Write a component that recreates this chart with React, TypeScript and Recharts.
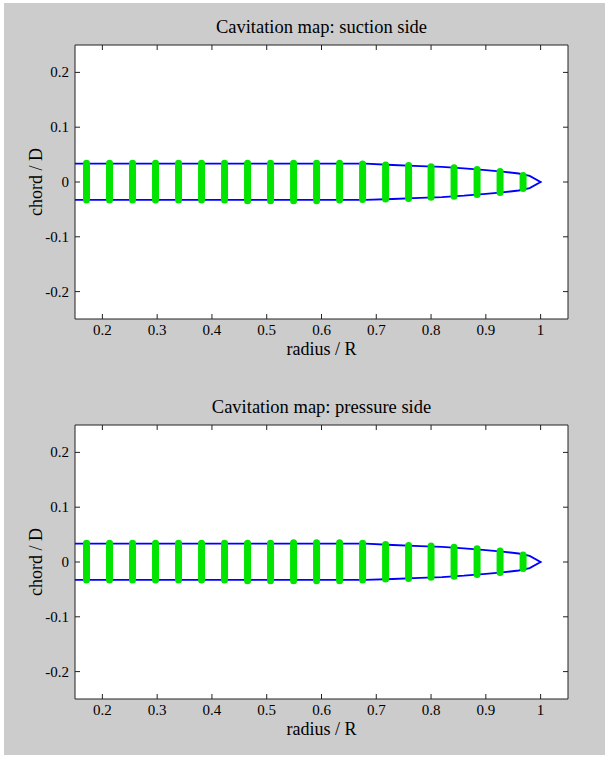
import { ComposedChart, Line, XAxis, YAxis } from "recharts";

// radii of the dot columns (r/R)
const COLUMN_R = [
  0.171, 0.213, 0.255, 0.297, 0.339, 0.381, 0.423, 0.465, 0.507, 0.549,
  0.591, 0.633, 0.675, 0.717, 0.759, 0.8, 0.842, 0.884, 0.926, 0.968,
];
// ends of each column (chord / D)
const SUCTION_TOP = [
  0.034, 0.034, 0.034, 0.034, 0.034, 0.034, 0.034, 0.034, 0.034, 0.034,
  0.034, 0.034, 0.033, 0.031, 0.03, 0.028, 0.026, 0.023, 0.019, 0.012,
];
const SUCTION_BOTTOM = [
  -0.033, -0.033, -0.033, -0.033, -0.033, -0.033, -0.033, -0.034, -0.034, -0.034,
  -0.034, -0.033, -0.032, -0.031, -0.03, -0.028, -0.026, -0.023, -0.019, -0.012,
];
const PRESSURE_TOP = [
  0.034, 0.034, 0.034, 0.034, 0.034, 0.034, 0.034, 0.034, 0.034, 0.035,
  0.035, 0.035, 0.034, 0.032, 0.03, 0.029, 0.027, 0.024, 0.02, 0.013,
];
const PRESSURE_BOTTOM = [
  -0.033, -0.033, -0.033, -0.033, -0.033, -0.033, -0.033, -0.034, -0.034, -0.034,
  -0.034, -0.034, -0.033, -0.031, -0.03, -0.028, -0.026, -0.023, -0.019, -0.012,
];

// blade outline
const OUTLINE_R = [0.15, 0.3, 0.45, 0.6, 0.68, 0.73, 0.78, 0.82, 0.86, 0.9, 0.93, 0.96, 0.98, 1.0];
const OUTLINE_UPPER = [0.0335, 0.0335, 0.0335, 0.0335, 0.0335, 0.031, 0.029, 0.0275, 0.025, 0.0215, 0.019, 0.0155, 0.011, 0];
const OUTLINE_LOWER = [-0.0325, -0.0325, -0.0325, -0.0325, -0.0325, -0.031, -0.029, -0.0275, -0.025, -0.0215, -0.019, -0.0155, -0.011, 0];

const X_TICKS = [0.2, 0.3, 0.4, 0.5, 0.6, 0.7, 0.8, 0.9, 1];
const Y_TICKS = [-0.2, -0.1, 0, 0.1, 0.2];

const FONT = "'Liberation Serif', 'DejaVu Serif', serif";
const GREEN = "#00e400";
const BLUE = "#0000ff";
const W = 605;
const H = 380;

const outline = [
  ...OUTLINE_R.map((r, i) => ({ x: r, y: OUTLINE_UPPER[i] })),
  ...OUTLINE_R.slice(0, -1)
    .map((r, i) => ({ x: r, y: OUTLINE_LOWER[i] }))
    .reverse(),
];

const fmt = (v: number) => String(v);

function BottomTick(props: any) {
  const { x, y, payload } = props;
  return (
    <g>
      <line x1={x} y1={y} x2={x} y2={y - 5} stroke="#222" />
      <text x={x} y={y + 16} textAnchor="middle" fontSize={15} fontFamily={FONT} fill="#000">
        {fmt(payload.value)}
      </text>
    </g>
  );
}

function TopTick(props: any) {
  const { x, y } = props;
  return <line x1={x} y1={y} x2={x} y2={y + 5} stroke="#222" />;
}

function LeftTick(props: any) {
  const { x, y, payload } = props;
  return (
    <g>
      <line x1={x} y1={y} x2={x + 5} y2={y} stroke="#222" />
      <text x={x - 6} y={y + 5} textAnchor="end" fontSize={15} fontFamily={FONT} fill="#000">
        {fmt(payload.value)}
      </text>
    </g>
  );
}

function RightTick(props: any) {
  const { x, y } = props;
  return <line x1={x} y1={y} x2={x - 5} y2={y} stroke="#222" />;
}

function CavPanel({
  title,
  top,
  tops,
  bottoms,
}: {
  title: string;
  top: number;
  tops: number[];
  bottoms: number[];
}) {
  const columns = COLUMN_R.map((r, i) => [
    { x: r, y: bottoms[i] },
    { x: r, y: tops[i] },
  ]);
  return (
    <div style={{ position: "absolute", left: 0, top, width: W, height: H }}>
      <div
        style={{
          position: "absolute",
          left: 75,
          width: 493,
          top: 16,
          textAlign: "center",
          fontFamily: FONT,
          fontSize: 18.5,
          lineHeight: "22px",
          color: "#000",
        }}
      >
        {title}
      </div>
      <div style={{ position: "absolute", left: 75, top: 45, width: 493, height: 274, background: "#fff" }} />
      <div style={{ position: "absolute", left: 0, top: 0 }}>
        <ComposedChart
          width={W}
          height={H}
          margin={{ top: 44, right: 36, bottom: 60, left: 74 }}
          style={{ overflow: "visible" }}
        >
          <XAxis
            xAxisId="b"
            dataKey="x"
            type="number"
            domain={[0.15, 1.05]}
            ticks={X_TICKS}
            interval={0}
            height={1}
            tickSize={0}
            tickMargin={0}
            tick={<BottomTick />}
            stroke="#222"
            allowDataOverflow
          />
          <XAxis
            xAxisId="t"
            orientation="top"
            dataKey="x"
            type="number"
            domain={[0.15, 1.05]}
            ticks={X_TICKS}
            interval={0}
            height={1}
            tickSize={0}
            tickMargin={0}
            tick={<TopTick />}
            stroke="#222"
            allowDataOverflow
          />
          <YAxis
            yAxisId="l"
            dataKey="y"
            type="number"
            domain={[-0.25, 0.25]}
            ticks={Y_TICKS}
            interval={0}
            width={1}
            tickSize={0}
            tickMargin={0}
            tick={<LeftTick />}
            stroke="#222"
            allowDataOverflow
          />
          <YAxis
            yAxisId="r"
            orientation="right"
            dataKey="y"
            type="number"
            domain={[-0.25, 0.25]}
            ticks={Y_TICKS}
            interval={0}
            width={1}
            tickSize={0}
            tickMargin={0}
            tick={<RightTick />}
            stroke="#222"
            allowDataOverflow
          />
          <Line
            xAxisId="b"
            yAxisId="l"
            data={outline}
            dataKey="y"
            stroke={BLUE}
            strokeWidth={1.8}
            dot={false}
            type="linear"
            isAnimationActive={false}
          />
          {columns.map((col, i) => (
            <Line
              key={i}
              xAxisId="b"
              yAxisId="l"
              data={col}
              dataKey="y"
              stroke={GREEN}
              strokeWidth={7}
              strokeLinecap="round"
              dot={false}
              type="linear"
              isAnimationActive={false}
            />
          ))}
        </ComposedChart>
      </div>
      <div
        style={{
          position: "absolute",
          left: 75,
          width: 493,
          top: 339,
          textAlign: "center",
          fontFamily: FONT,
          fontSize: 18,
          lineHeight: "20px",
          color: "#000",
        }}
      >
        radius / R
      </div>
      <div
        style={{
          position: "absolute",
          left: 36,
          top: 182,
          transform: "translate(-50%, -50%) rotate(-90deg)",
          whiteSpace: "nowrap",
          fontFamily: FONT,
          fontSize: 18,
          lineHeight: "20px",
          color: "#000",
        }}
      >
        chord / D
      </div>
    </div>
  );
}

export default function App() {
  return (
    <div style={{ position: "absolute", left: 0, top: 0, width: W, height: 762 }}>
      <div style={{ position: "absolute", left: 4, top: 3, width: 601, height: 752, background: "#cccccc" }} />
      <CavPanel title="Cavitation map: suction side" top={0} tops={SUCTION_TOP} bottoms={SUCTION_BOTTOM} />
      <CavPanel title="Cavitation map: pressure side" top={380} tops={PRESSURE_TOP} bottoms={PRESSURE_BOTTOM} />
    </div>
  );
}
